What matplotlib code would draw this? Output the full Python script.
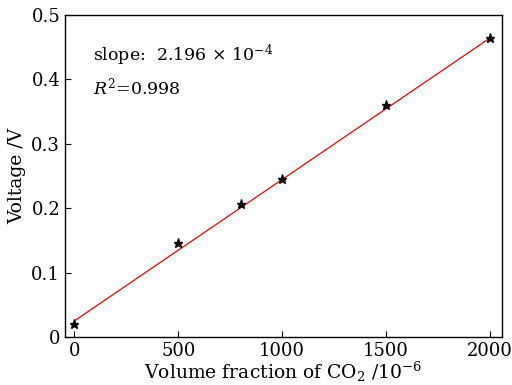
import matplotlib
matplotlib.use("Agg")
import matplotlib.pyplot as plt
import numpy as np

plt.rcParams['font.family'] = ['DejaVu Serif']
plt.rcParams['mathtext.fontset'] = 'dejavuserif'

# measured points
conc = [0, 500, 800, 1000, 1500, 2000]
volt = [0.020, 0.146, 0.206, 0.246, 0.360, 0.464]

# linear fit
slope = 2.196e-4
intercept = 0.0248
fit_x = [0, 2000]

fig = plt.figure(figsize=(5.12, 3.85), dpi=100)
ax = fig.add_axes([0.127, 0.125, 0.853, 0.836])

ax.plot(fit_x, [slope * x + intercept for x in fit_x], color='red', lw=0.9)
ax.plot(conc, volt, linestyle='none', marker='*', color='black', markersize=6.5)

ax.set_xlim(-45, 2058)
ax.set_ylim(0, 0.5)
ax.set_xticks([0, 500, 1000, 1500, 2000])
ax.set_yticks([0, 0.1, 0.2, 0.3, 0.4, 0.5])
ax.set_yticklabels(['0', '0.1', '0.2', '0.3', '0.4', '0.5'])
ax.tick_params(direction='in', labelsize=13, length=4)
for s in ax.spines.values():
    s.set_linewidth(1.0)

ax.set_xlabel('Volume fraction of CO$_2$ /10$^{-6}$', fontsize=13.5, labelpad=0)
ax.set_ylabel('Voltage /V', fontsize=13.5, labelpad=4)

ax.text(0.064, 0.875, 'slope:  2.196 × 10$^{-4}$', transform=ax.transAxes,
        fontsize=12.5, va='center')
ax.text(0.064, 0.775, '$R^2$=0.998', transform=ax.transAxes,
        fontsize=12.5, va='center')

fig.savefig('out.png', dpi=100)
